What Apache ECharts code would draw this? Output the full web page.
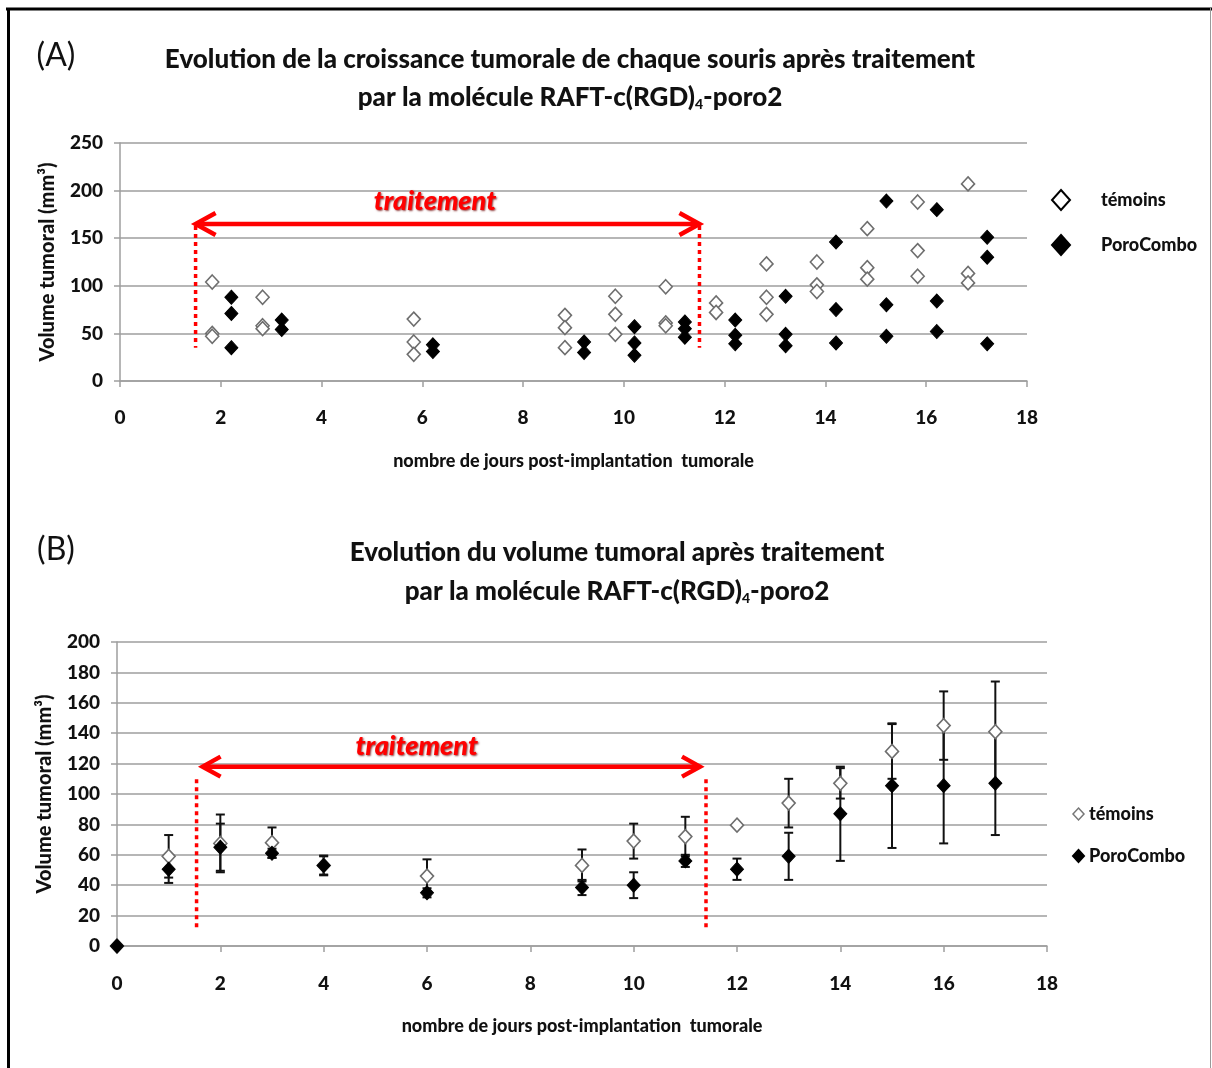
<!DOCTYPE html>
<html>
<head>
<meta charset="utf-8">
<title>Evolution du volume tumoral</title>
<script src="https://cdn.jsdelivr.net/npm/echarts@6/dist/echarts.min.js"></script>
<style>
  html, body { margin: 0; padding: 0; background: #fff; }
  #chart { width: 1212px; height: 1068px; }
</style>
</head>
<body>
<div id="chart"></div>
<script>
  // (A) mesures individuelles : 3 souris par groupe et par jour
  var joursA = [2, 3, 6, 9, 10, 11, 12, 13, 14, 15, 16, 17];
  var temoinsA = [
    [104, 50, 47], [88, 58, 55], [65, 41, 28], [69, 56, 35], [89, 70, 49], [99, 61, 58],
    [82, 72], [123, 88, 70], [125, 101, 94], [160, 119, 107], [188, 137, 110], [207, 113, 103]
  ];
  var poroA = [
    [88, 71, 35], [64, 54], [38, 31], [41, 30], [57, 40, 27], [62, 55, 46],
    [64, 48, 39], [89, 49, 37], [146, 75, 40], [189, 80, 47], [180, 84, 52], [151, 130, 39]
  ];

  // (B) moyennes +/- erreur
  var joursB = [0, 1, 2, 3, 4, 6, 9, 10, 11, 12, 13, 14, 15, 16, 17];
  var moyTemoins = [0, 59, 67.5, 68, 53, 46, 53, 69, 72, 79.5, 94, 107, 128, 145, 141];
  var errTemoins = [0, 14, 19, 10, 6, 11, 10.5, 11.5, 13, 0, 16, 10, 18, 22.5, 33];
  var moyPoro = [0, 50.5, 65, 61, 53, 35, 38.5, 40, 56, 50.5, 59, 87, 105.5, 105.5, 107];
  var errPoro = [0, 9, 15.5, 3, 6.5, 3, 5, 8.5, 4, 7, 15.5, 31, 41, 38, 34];

  // période de traitement (jours) et niveaux des flèches
  var traitementA = { debut: 1.5, fin: 11.5, fleche: 165, bas: 35, texteX: 6.25, texteY: 189 };
  var traitementB = { debut: 1.54, fin: 11.4, fleche: 118, haut: 111, bas: 12, texteX: 5.8, texteY: 131.5 };

  var font = 'Lato, "Noto Sans", sans-serif';
  var gris = '#9e9e9e';

  var pointsA = function (jours, valeurs, decalage) {
    var out = [];
    jours.forEach(function (j, i) {
      valeurs[i].forEach(function (v) { out.push([j + decalage, v]); });
    });
    return out;
  };

  var renderTraitement = function (t, chevron) {
    return function (params, api) {
      var red = '#ff0000';
      var g = api.coord([t.debut, t.fleche]);
      var d = api.coord([t.fin, t.fleche]);
      var gTop = api.coord([t.debut, t.haut || t.fleche]);
      var gBas = api.coord([t.debut, t.bas]);
      var dTop = api.coord([t.fin, t.haut || t.fleche]);
      var dBas = api.coord([t.fin, t.bas]);
      var txt = api.coord([t.texteX, t.texteY]);
      var x0 = g[0] + chevron.tip, x1 = d[0] - chevron.tip;
      var dash = { stroke: red, lineWidth: 3.5, lineDash: [4, 4] };
      var plein = { stroke: red, lineWidth: 4.5, fill: null, lineCap: 'butt' };
      return {
        type: 'group',
        children: [
          { type: 'line', shape: { x1: gTop[0], y1: gTop[1] + 2, x2: gBas[0], y2: gBas[1] }, style: dash },
          { type: 'line', shape: { x1: dTop[0], y1: dTop[1] + 2, x2: dBas[0], y2: dBas[1] }, style: dash },
          { type: 'line', shape: { x1: x0 + 2, y1: g[1], x2: x1 - 2, y2: d[1] }, style: plein },
          { type: 'polyline', shape: { points: [[x0 + chevron.len, g[1] - chevron.h], [x0, g[1]], [x0 + chevron.len, g[1] + chevron.h]] }, style: plein },
          { type: 'polyline', shape: { points: [[x1 - chevron.len, d[1] - chevron.h], [x1, d[1]], [x1 - chevron.len, d[1] + chevron.h]] }, style: plein },
          {
            type: 'text', x: txt[0], y: txt[1],
            style: {
              text: 'traitement', fill: red, font: 'italic 900 27px ' + font,
              align: 'center', verticalAlign: 'middle',
              textShadowColor: 'rgba(110,0,0,0.75)', textShadowBlur: 2,
              textShadowOffsetX: 1, textShadowOffsetY: 1
            }
          }
        ]
      };
    };
  };

  var renderErreur = function (params, api) {
    var x = api.value(0), lo = api.value(1), hi = api.value(2);
    if (hi - lo <= 0) return;
    var a = api.coord([x, hi]);
    var b = api.coord([x, lo]);
    var s = { stroke: '#111', lineWidth: 2 };
    return {
      type: 'group',
      children: [
        { type: 'line', shape: { x1: a[0], y1: a[1], x2: b[0], y2: b[1] }, style: s },
        { type: 'line', shape: { x1: a[0] - 4.5, y1: a[1], x2: a[0] + 4.5, y2: a[1] }, style: s },
        { type: 'line', shape: { x1: b[0] - 4.5, y1: b[1], x2: b[0] + 4.5, y2: b[1] }, style: s }
      ]
    };
  };

  var barres = function (moy, err) {
    return joursB.map(function (j, i) { return [j, moy[i] - err[i], moy[i] + err[i]]; });
  };

  var axeX = function (idx) {
    return {
      type: 'value', gridIndex: idx, min: 0, max: 18, interval: 2,
      name: 'nombre de jours post-implantation  tumorale',
      nameLocation: 'middle', nameGap: 71,
      nameTextStyle: { fontFamily: font, fontWeight: 900, fontSize: 18, color: '#111' },
      axisLine: { show: true, lineStyle: { color: gris, width: 1.5 } },
      axisTick: { show: true, length: 6, lineStyle: { color: gris, width: 1.5 } },
      axisLabel: { fontFamily: font, fontWeight: 900, fontSize: 19, color: '#111', margin: idx === 0 ? 27 : 28 },
      splitLine: { show: false }
    };
  };

  var axeY = function (idx, max, step) {
    return {
      type: 'value', gridIndex: idx, min: 0, max: max, interval: step,
      name: 'Volume tumoral (mm³)',
      nameLocation: 'middle', nameGap: 62, nameRotate: 90,
      nameTextStyle: { fontFamily: font, fontWeight: 900, fontSize: 20, color: '#111' },
      axisLine: { show: true, lineStyle: { color: gris, width: 1.5 } },
      axisTick: { show: true, length: 6, lineStyle: { color: gris, width: 1.5 } },
      axisLabel: { fontFamily: font, fontWeight: 900, fontSize: 19, color: '#111', margin: 17 },
      splitLine: { show: true, lineStyle: { color: gris, width: 1.5 } }
    };
  };

  var styleOuvert = { color: '#fff', borderColor: '#6e6e6e', borderWidth: 1.6, opacity: 1 };
  var stylePlein = { color: '#000', borderColor: '#000', borderWidth: 1, opacity: 1 };

  var titre = function (x, y, text, size, weight) {
    return {
      type: 'text', x: x, y: y,
      style: { text: text, font: (weight || '900') + ' ' + size + 'px ' + font, fill: '#111', align: 'center', verticalAlign: 'middle' }
    };
  };
  var titreRGD = function (x, y) {
    return {
      type: 'text', x: x, y: y,
      style: {
        text: '{b|par la molécule RAFT-c(RGD)}{s|4}{b|-poro2}',
        align: 'center', verticalAlign: 'middle',
        rich: {
          b: { font: '900 26px ' + font, fill: '#111', verticalAlign: 'bottom', lineHeight: 30 },
          s: { font: '900 14px ' + font, fill: '#111', verticalAlign: 'bottom', lineHeight: 22 }
        }
      }
    };
  };

  var chart = echarts.init(document.getElementById('chart'));
  chart.setOption({
    animation: false,
    backgroundColor: '#fff',
    graphic: [
      { type: 'line', shape: { x1: 6, y1: 9, x2: 1212, y2: 9 }, style: { stroke: '#000', lineWidth: 3 } },
      { type: 'line', shape: { x1: 8.5, y1: 8, x2: 8.5, y2: 1068 }, style: { stroke: '#000', lineWidth: 3 } },
      { type: 'line', shape: { x1: 1210.5, y1: 8, x2: 1210.5, y2: 1068 }, style: { stroke: '#999', lineWidth: 1 } },
      titre(56, 56, '(A)', 32, 'normal'),
      titre(570, 60, 'Evolution de la croissance tumorale de chaque souris après traitement', 26),
      titreRGD(570, 96),
      titre(56, 550, '(B)', 32, 'normal'),
      titre(617, 553, 'Evolution du volume tumoral après traitement', 26),
      titreRGD(617, 590)
    ],
    grid: [
      { left: 120, top: 143, width: 907, height: 238 },
      { left: 117, top: 642, width: 930, height: 304 }
    ],
    legend: [
      {
        data: [
          { name: 'témoins', itemStyle: { color: '#fff', borderColor: '#000', borderWidth: 2 } },
          { name: 'PoroCombo', itemStyle: { color: '#000', borderColor: '#000' } }
        ],
        orient: 'vertical', left: 1046, top: 184,
        itemWidth: 18, itemHeight: 20, itemGap: 23, selectedMode: false,
        textStyle: { fontFamily: font, fontWeight: 900, fontSize: 18, color: '#111', padding: [0, 0, 0, 26] }
      },
      {
        data: [
          { name: 'témoins', itemStyle: { color: '#fff', borderColor: '#777', borderWidth: 1.5 } },
          { name: 'PoroCombo', itemStyle: { color: '#000', borderColor: '#000' } }
        ],
        orient: 'vertical', left: 1067, top: 800,
        itemWidth: 11, itemHeight: 12, itemGap: 24, selectedMode: false,
        textStyle: { fontFamily: font, fontWeight: 900, fontSize: 18, color: '#111' }
      }
    ],
    xAxis: [axeX(0), axeX(1)],
    yAxis: [axeY(0, 250, 50), axeY(1, 200, 20)],
    series: [
      {
        name: 'témoins', type: 'scatter', xAxisIndex: 0, yAxisIndex: 0,
        symbol: 'diamond', symbolSize: [13, 14], itemStyle: styleOuvert,
        data: pointsA(joursA, temoinsA, -0.17)
      },
      {
        name: 'PoroCombo', type: 'scatter', xAxisIndex: 0, yAxisIndex: 0,
        symbol: 'diamond', symbolSize: [13, 14], itemStyle: stylePlein,
        data: pointsA(joursA, poroA, 0.21)
      },
      {
        type: 'custom', xAxisIndex: 0, yAxisIndex: 0, silent: true, z: 5,
        renderItem: renderTraitement(traitementA, { tip: 0, len: 20, h: 11 }),
        data: [[traitementA.debut, traitementA.fleche]]
      },
      {
        type: 'custom', xAxisIndex: 1, yAxisIndex: 1, silent: true,
        renderItem: renderErreur, encode: { x: 0, y: [1, 2] },
        data: barres(moyTemoins, errTemoins)
      },
      {
        type: 'custom', xAxisIndex: 1, yAxisIndex: 1, silent: true,
        renderItem: renderErreur, encode: { x: 0, y: [1, 2] },
        data: barres(moyPoro, errPoro)
      },
      {
        name: 'témoins', type: 'scatter', xAxisIndex: 1, yAxisIndex: 1,
        symbol: 'diamond', symbolSize: [13, 14], itemStyle: styleOuvert, clip: false,
        data: joursB.map(function (j, i) { return [j, moyTemoins[i]]; })
      },
      {
        name: 'PoroCombo', type: 'scatter', xAxisIndex: 1, yAxisIndex: 1,
        symbol: 'diamond', symbolSize: [13, 14], itemStyle: stylePlein, clip: false,
        data: joursB.map(function (j, i) { return [j, moyPoro[i]]; })
      },
      {
        type: 'custom', xAxisIndex: 1, yAxisIndex: 1, silent: true, z: 5,
        renderItem: renderTraitement(traitementB, { tip: 6, len: 18, h: 10 }),
        data: [[traitementB.debut, traitementB.fleche]]
      }
    ]
  });
</script>
</body>
</html>
